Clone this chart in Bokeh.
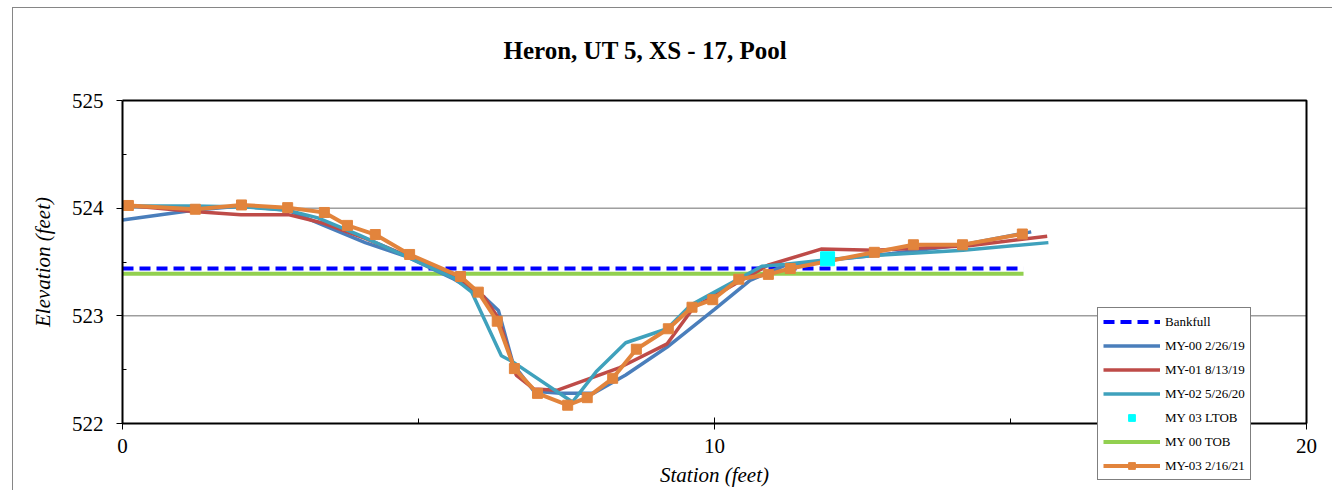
from bokeh.plotting import figure
from bokeh.models import (Range1d, SingleIntervalTicker, FixedTicker, Title, Legend,
                          LegendItem)
from bokeh.embed import file_html
from bokeh.resources import INLINE

FONT = "Liberation Serif"

# ---- data ----
X_MIN, X_MAX = 0, 20
Y_MIN, Y_MAX = 522, 525
y_major = [522, 523, 524, 525]
y_minor = [522.5, 523.5, 524.5]
grid_levels = [523, 524]

bkf_x = [0.0, 15.22]
bkf_y = [523.44, 523.44]

tob_x = [0.0, 15.22]
tob_y = [523.39, 523.39]

ltob_x = [11.91]
ltob_y = [523.53]

my00_x = [0.0, 1.2, 2.0, 2.8, 3.4, 4.1, 4.8, 5.6, 6.1, 6.35, 6.6, 6.95, 7.4, 7.95,
          8.5, 9.2, 10.0, 10.6, 11.2, 12.0, 13.0, 14.2, 15.35]
my00_y = [523.89, 523.98, 524.02, 523.98, 523.84, 523.68, 523.55, 523.34, 523.18, 523.05,
          522.55, 522.30, 522.28, 522.28, 522.45, 522.71, 523.06, 523.33, 523.47, 523.52,
          523.58, 523.66, 523.78]

my01_x = [0.0, 1.2, 2.0, 2.8, 3.4, 4.1, 4.8, 5.6, 6.1, 6.35, 6.65, 6.95, 7.35, 8.4,
          9.2, 9.65, 10.2, 10.9, 11.8, 12.7, 13.5, 14.3, 15.62]
my01_y = [524.03, 523.97, 523.94, 523.94, 523.86, 523.72, 523.56, 523.36, 523.18, 522.98,
          522.45, 522.32, 522.31, 522.52, 522.74, 523.08, 523.25, 523.47, 523.62, 523.61,
          523.63, 523.65, 523.74]

my02_x = [0.0, 1.2, 2.1, 2.8, 3.3, 4.0, 4.8, 5.6, 5.9, 6.4, 6.6, 7.6, 8.0, 8.5, 9.2,
          9.6, 9.9, 10.8, 11.2, 11.9, 12.7, 14.2, 15.64]
my02_y = [524.02, 524.02, 524.01, 523.98, 523.91, 523.75, 523.55, 523.35, 523.22, 522.63,
          522.57, 522.20, 522.48, 522.75, 522.88, 523.10, 523.19, 523.46, 523.48, 523.52,
          523.56, 523.61, 523.68]

my03_x = [0.1, 1.23, 2.01, 2.79, 3.41, 3.80, 4.27, 4.85, 5.71, 6.01, 6.33, 6.62, 7.01,
          7.52, 7.85, 8.28, 8.68, 9.22, 9.62, 9.97, 10.41, 10.91, 11.28, 12.70, 13.36,
          14.19, 15.20]
my03_y = [524.025, 523.99, 524.03, 524.005, 523.96, 523.84, 523.755, 523.57, 523.365,
          523.22, 522.95, 522.51, 522.28, 522.17, 522.24, 522.42, 522.69, 522.88, 523.08,
          523.15, 523.34, 523.385, 523.44, 523.59, 523.66, 523.66, 523.76]

title_text = "Heron, UT 5, XS - 17, Pool"
x_label = "Station (feet)"
y_label = "Elevation (feet)"

# ---- layout geometry (pixels) ----
W, H = 1320, 483
PX_PER_X = 59.2
PX_PER_Y = 107.67
PLOT_LEFT_PAD = 109      # px between canvas left and x = X_MIN
TOP_PAD = 18             # px of frame above y = Y_MAX
frame_h = 409
x_start = X_MIN - PLOT_LEFT_PAD / PX_PER_X
x_end = x_start + W / PX_PER_X
y_end = Y_MAX + TOP_PAD / PX_PER_Y
y_start = y_end - frame_h / PX_PER_Y

p = figure(width=W, height=H, x_range=Range1d(x_start, x_end),
           y_range=Range1d(y_start, y_end),
           output_backend="svg", toolbar_location=None,
           min_border_left=0, min_border_right=0,
           min_border_top=H - frame_h, min_border_bottom=0)
p.styles = {"border-top": "1px solid #868686", "border-left": "1px solid #868686",
            "margin-left": "12px", "margin-top": "7px"}

p.background_fill_color = "white"
p.border_fill_color = "white"
p.outline_line_color = None

t = Title(text=title_text, align="left", offset=490, standoff=37,
          text_font=FONT, text_font_size="25px", text_font_style="bold",
          text_color="black")
p.add_layout(t, "above")

# axes
p.xaxis.ticker = SingleIntervalTicker(interval=10, num_minor_ticks=2)
p.yaxis.ticker = FixedTicker(ticks=y_major, minor_ticks=y_minor)
p.xaxis.bounds = (X_MIN, X_MAX)
p.yaxis.bounds = (Y_MIN, Y_MAX)
p.xaxis.fixed_location = Y_MIN
p.yaxis.fixed_location = X_MIN
for ax in (p.xaxis[0], p.yaxis[0]):
    ax.axis_line_color = "black"
    ax.axis_line_width = 2
    ax.major_tick_line_color = "black"
    ax.minor_tick_line_color = "black"
    ax.major_tick_line_width = 1
    ax.minor_tick_line_width = 1
    ax.major_label_text_font = FONT
    ax.major_label_text_font_size = "21px"
    ax.major_label_text_color = "black"
    ax.axis_label_text_font = FONT
    ax.axis_label_text_font_size = "21px"
    ax.axis_label_text_font_style = "italic"
    ax.axis_label_text_color = "black"

p.xaxis.axis_label = x_label
p.yaxis.axis_label = y_label
p.xaxis.major_tick_in = 6
p.xaxis.major_tick_out = 6
p.xaxis.minor_tick_in = 5
p.xaxis.minor_tick_out = 0
p.xaxis.major_label_standoff = 9
p.xaxis.axis_label_standoff = 7

p.yaxis.major_tick_in = 0
p.yaxis.major_tick_out = 6
p.yaxis.minor_tick_in = 4
p.yaxis.minor_tick_out = 0
p.yaxis.major_label_standoff = 13
p.yaxis.axis_label_standoff = 14

p.xgrid.visible = False
p.ygrid.visible = False

# horizontal gridlines across the plot area only
p.multi_line([[X_MIN, X_MAX] for _ in grid_levels], [[g, g] for g in grid_levels],
             line_color="#6e6e6e", line_width=1)

# plot-area border (top and right sides)
p.line([X_MIN, X_MAX, X_MAX], [Y_MAX, Y_MAX, Y_MIN], line_color="black", line_width=2)

# ---- series ----
r_tob = p.line(tob_x, tob_y, line_color="#92D050", line_width=4)
r_bkf = p.line(bkf_x, bkf_y, line_color="#0000FF", line_width=4, line_dash="11 6")
r00 = p.line(my00_x, my00_y, line_color="#4A7EBB", line_width=3.5)
r01 = p.line(my01_x, my01_y, line_color="#BE4B48", line_width=3.5)
r02 = p.line(my02_x, my02_y, line_color="#3FA1BC", line_width=3.5)
r03 = p.line(my03_x, my03_y, line_color="#E2843C", line_width=4)
r03m = p.scatter(my03_x, my03_y, marker="square", size=10, fill_color="#E2843C",
                 line_color="#E2843C")
r_ltob = p.scatter(ltob_x, ltob_y, marker="square", size=14, fill_color="#00FFFF",
                   line_color="#00FFFF")

legend = Legend(items=[
    LegendItem(label="Bankfull", renderers=[r_bkf]),
    LegendItem(label="MY-00 2/26/19", renderers=[r00]),
    LegendItem(label="MY-01 8/13/19", renderers=[r01]),
    LegendItem(label="MY-02 5/26/20", renderers=[r02]),
    LegendItem(label="MY 03 LTOB", renderers=[r_ltob]),
    LegendItem(label="MY 00 TOB", renderers=[r_tob]),
    LegendItem(label="MY-03 2/16/21", renderers=[r03, r03m]),
], location=(975 + PLOT_LEFT_PAD, 11))
legend.glyph_width = 57
legend.glyph_height = 17
legend.label_height = 17
legend.spacing = 7
legend.padding = 5
legend.margin = 0
legend.label_standoff = 5
legend.label_text_font = FONT
legend.label_text_font_size = "13px"
legend.label_text_color = "black"
legend.border_line_color = "black"
legend.border_line_width = 1
legend.background_fill_color = "white"
legend.background_fill_alpha = 1.0
p.add_layout(legend, "center")

open("out.html", "w").write(file_html(p, INLINE))
